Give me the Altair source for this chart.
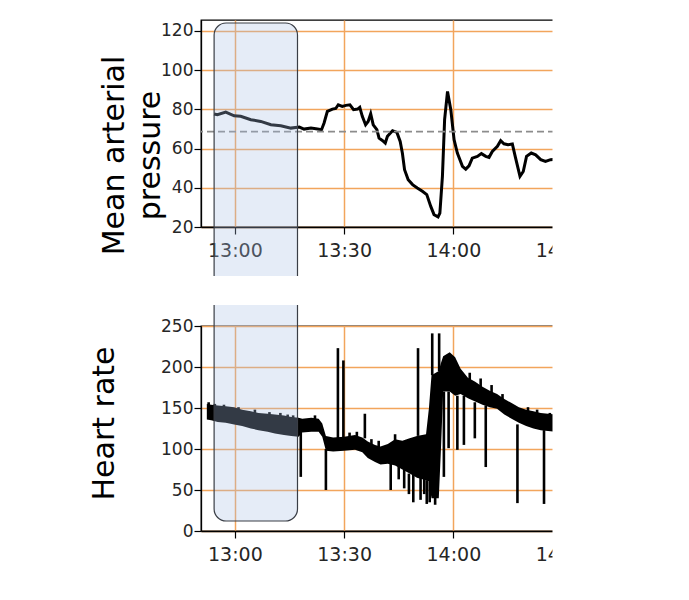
import altair as alt
import pandas as pd

# ---------------- data (times are minutes relative to 13:00) ----------------
map_minutes = [-5.7, -4.8, -2.5, -0.2, 1.6, 4.4, 7.1, 9.9, 12.6, 15.4,
               17.7, 19.0, 20.9, 22.7, 23.8, 24.5, 25.4, 26.8, 27.7, 28.4,
               29.5, 30.5, 31.6, 32.6, 33.7, 34.3, 35.0, 35.9, 36.6, 37.3,
               38.0, 39.0, 39.6, 40.5, 41.3, 41.9, 43.3, 44.5, 45.4, 46.0,
               46.6, 47.6, 48.8, 50.1, 51.5, 52.7, 53.8, 54.7, 55.8, 56.3,
               57.0, 57.6, 58.4, 59.3, 60.2, 61.1, 62.5, 63.4, 64.3, 65.2,
               66.6, 67.7, 68.9, 69.8, 70.7, 72.1, 73.0, 73.9, 75.0, 76.2,
               77.1, 78.3, 79.2, 80.1, 81.4, 82.6, 84.0, 85.3, 86.7, 88.0]
map_values = [77.6, 77.2, 78.6, 76.7, 76.4, 74.7, 73.8, 72.1, 71.6, 70.4,
              70.9, 69.9, 70.4, 69.9, 69.6, 73.0, 78.9, 80.1, 80.4, 82.3,
              81.5, 82.0, 82.3, 79.8, 80.1, 81.0, 76.4, 72.1, 73.8, 77.7,
              72.1, 69.6, 65.3, 64.1, 62.8, 66.2, 69.1, 68.2, 63.6, 57.7,
              49.2, 44.1, 41.6, 39.9, 38.2, 36.5, 30.5, 26.3, 25.1, 27.1,
              45.8, 74.7, 89.1, 79.8, 64.5, 57.7, 50.9, 49.5, 51.2, 55.1,
              56.0, 57.4, 56.0, 55.5, 58.5, 61.1, 64.0, 62.4, 61.9, 62.3,
              55.1, 45.8, 48.3, 56.0, 57.7, 56.8, 54.3, 53.4, 54.3, 54.5]
map_threshold = [68.6]

hr_minutes = [-7.7, -6.5, -4.7, -2.5, -0.2, 2.0, 4.4, 6.5, 9.0, 11.0,
              13.5, 15.5, 17.5, 18.5, 21.0, 23.0, 24.0, 25.0, 27.0, 30.0,
              33.0, 35.0, 36.5, 38.5, 40.0, 42.0, 44.0, 46.0, 48.0, 50.0,
              52.5, 53.3, 54.0, 56.0, 56.6, 57.2, 59.0, 60.5, 62.0, 64.0,
              66.0, 68.0, 70.0, 72.0, 74.0, 76.0, 78.0, 80.0, 82.0, 84.0,
              86.0, 88.0]
hr_low = [136, 135, 133, 132, 130, 128, 125, 123, 121, 119,
          117, 116, 115, 120, 121, 121, 115, 98, 97, 98,
          99, 96, 89, 84, 81, 82, 80, 75, 70, 65,
          62, 60, 40, 40, 100, 170, 170, 165, 167, 162,
          158, 154, 151, 149, 142, 137, 132, 128, 125, 123,
          122, 121]
hr_high = [155, 154, 153, 152, 151, 148, 146, 144, 143, 142,
           141, 139, 138, 137, 138, 137, 131, 116, 114, 115,
           117, 114, 109, 105, 103, 106, 112, 110, 113, 116,
           118, 150, 190, 195, 205, 213, 218, 212, 198, 187,
           182, 176, 171, 167, 161, 156, 151, 148, 146, 144,
           143, 142]

# isolated beats (vertical excursions away from the band)
spike_minutes = [18.1, 25.0, 28.3, 29.8, 35.7, 42.8, 45.0, 46.5, 47.8, 49.0,
                 50.3, 51.0, 52.0, 52.7, 53.5, 54.2, 55.0, 56.1, 57.4, 58.7,
                 61.1, 62.9, 65.9, 68.9, 77.6, 84.9,
                 -7.2, -5.5, -3.0, 1.0, 5.5, 9.5, 12.5, 14.5, 16.0, 22.0,
                 31.5, 33.5, 37.5, 39.5, 44.0, 64.5, 67.5, 70.5, 73.5, 80.5, 83.0, 86.5]
spike_base = [120, 100, 113, 113, 113, 85, 80, 75, 70, 70,
              116, 65, 65, 62, 60, 190, 45, 195, 170, 170,
              165, 165, 157, 153, 130, 123,
              145, 145, 145, 140, 135, 132, 130, 128, 127, 130,
              108, 108, 100, 95, 100, 180, 172, 165, 155, 140, 138, 135]
spike_tip = [66, 50, 223, 208, 143, 50, 63, 52, 45, 35,
             223, 38, 45, 33, 35, 241, 32, 241, 66, 101,
             99, 105, 113, 78, 34, 33,
             157, 155, 154, 151, 148, 145, 144, 142, 141, 141,
             120, 121, 112, 110, 118, 193, 186, 178, 167, 151, 148, 144]

shade_minutes = [-5.7, 17.2]
x_domain_minutes = [-9.3, 100.0]
x_tick_minutes = [0, 30, 60, 90]
map_ticks = [20, 40, 60, 80, 100, 120]
map_domain = [20, 125.5]
hr_ticks = [0, 50, 100, 150, 200, 250]
hr_domain = [0, 250]

# ---------------- helpers ----------------
BASE = pd.Timestamp("2024-01-01 13:00:00")


def ts(m):
    return BASE + pd.to_timedelta(m, unit="m")


def dt(m):
    t = ts(m)
    return alt.DateTime(year=t.year, month=t.month, date=t.day,
                        hours=t.hour, minutes=t.minute, seconds=t.second)


map_df = pd.DataFrame({"time": [ts(m) for m in map_minutes], "map": map_values})
thr_df = pd.DataFrame({"v": map_threshold})
hr_df = pd.DataFrame({"time": [ts(m) for m in hr_minutes], "lo": hr_low, "hi": hr_high})
spk_df = pd.DataFrame({"time": [ts(m) for m in spike_minutes], "base": spike_base, "tip": spike_tip})
shade_df = pd.DataFrame({"start": [ts(shade_minutes[0])], "end": [ts(shade_minutes[1])]})
one_df = pd.DataFrame({"k": [0]})

W, H1, H2 = 398, 207, 205
FONT = "DejaVu Sans"
GRID = "#f2a55c"

xscale = alt.Scale(domain=[dt(x_domain_minutes[0]), dt(x_domain_minutes[1])], nice=False)
xaxis = alt.Axis(values=[dt(m) for m in x_tick_minutes], format="%H:%M", title=None,
                 labelFontSize=19, labelPadding=7, tickSize=7, labelFlush=False,
                 labelOverlap=False)

X = alt.X("time:T", scale=xscale, axis=xaxis)

# ---------------- top panel: mean arterial pressure ----------------
y_top = alt.Y("map:Q", scale=alt.Scale(domain=map_domain, nice=False, zero=False),
              axis=alt.Axis(values=map_ticks, title=["Mean arterial", "pressure"],
                            titleAngle=270, titleAlign="center", titleBaseline="alphabetic",
                            titleX=-78, titleY=135, titleLineHeight=36, titleFontSize=30))

thr = alt.Chart(thr_df).mark_rule(color="#8c8c8c", strokeDash=[7, 4], strokeWidth=1.6).encode(
    y=alt.Y("v:Q", scale=alt.Scale(domain=map_domain, nice=False, zero=False)))
line = alt.Chart(map_df).mark_line(color="black", strokeWidth=3).encode(x=X, y=y_top)
shade_top = alt.Chart(shade_df).mark_rect(
    fill="#a9bfe6", fillOpacity=0.3, stroke="#3a3e46", strokeWidth=1.2, cornerRadius=12
).encode(x=alt.X("start:T", scale=xscale), x2="end:T", y=alt.value(3), y2=alt.value(280))
cover_top = alt.Chart(one_df).mark_rect(color="white").encode(
    x=alt.value(351.5), x2=alt.value(440), y=alt.value(-2), y2=alt.value(H1 + 40))

top = alt.layer(line, thr, shade_top, cover_top).properties(width=W, height=H1)

# ---------------- bottom panel: heart rate ----------------
y_bot = alt.Y("lo:Q", scale=alt.Scale(domain=hr_domain, nice=False),
              axis=alt.Axis(values=hr_ticks, title="Heart rate", titleAngle=270,
                            titleAlign="center", titleBaseline="alphabetic",
                            titleX=-88, titleY=97, titleFontSize=30))
band = alt.Chart(hr_df).mark_area(color="black", opacity=1).encode(x=X, y=y_bot, y2="hi:Q")
spikes = alt.Chart(spk_df).mark_rule(color="black", strokeWidth=2.6).encode(
    x=alt.X("time:T", scale=xscale),
    y=alt.Y("base:Q", scale=alt.Scale(domain=hr_domain, nice=False)), y2="tip:Q")
shade_bot = alt.Chart(shade_df).mark_rect(
    fill="#a9bfe6", fillOpacity=0.3, stroke="#3a3e46", strokeWidth=1.2, cornerRadius=12
).encode(x=alt.X("start:T", scale=xscale), x2="end:T", y=alt.value(-40), y2=alt.value(195))
gap_cover = alt.Chart(shade_df).mark_rect(color="white", stroke="white", strokeWidth=4).encode(
    x=alt.X("start:T", scale=xscale), x2="end:T", y=alt.value(-48), y2=alt.value(-23))
cover_bot = alt.Chart(one_df).mark_rect(color="white").encode(
    x=alt.value(351.5), x2=alt.value(440), y=alt.value(-2), y2=alt.value(H2 + 40))

bottom = alt.layer(band, spikes, shade_bot, gap_cover, cover_bot).properties(width=W, height=H2)

chart = alt.vconcat(top, bottom, spacing=99, bounds="flush").properties(
    padding={"left": 88, "top": 17, "right": 0, "bottom": 0},
    background="white",
).configure_view(stroke="black", strokeWidth=1.3).configure_axis(
    labelFont=FONT, titleFont=FONT, labelFontSize=17, labelColor="#262626",
    labelPadding=1, tickSize=7, tickColor="black", tickWidth=1.2,
    domainColor="black", domainWidth=1.3, gridColor=GRID, gridWidth=1.5,
    titleFontSize=29, titleFontWeight="normal", titleColor="black"
)

chart.save("out.html", embed_options={"renderer": "svg", "actions": False})
